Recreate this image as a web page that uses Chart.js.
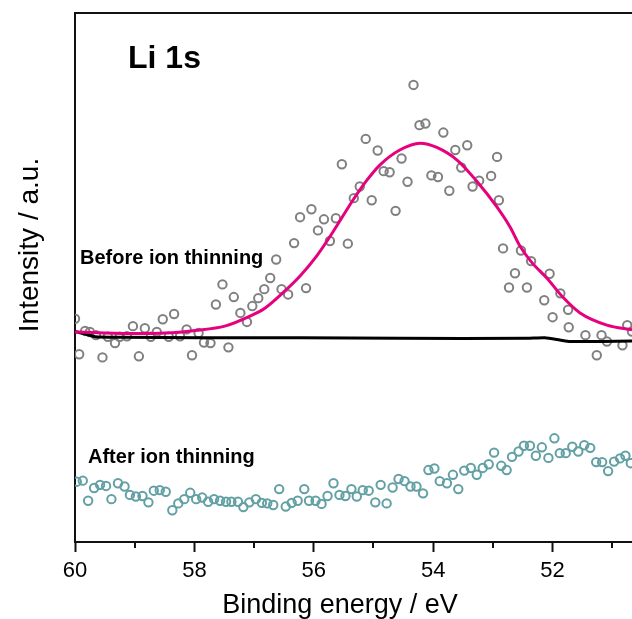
<!DOCTYPE html>
<html>
<head>
<meta charset="utf-8">
<title>Li 1s</title>
<script src="https://cdn.jsdelivr.net/npm/chart.js@4.4.1/dist/chart.umd.min.js"></script>
<style>
    html, body { margin: 0; padding: 0; background: #fff; }
    #wrap { width: 632px; height: 619px; position: relative; }
</style>
</head>
<body>
<div id="wrap"><canvas id="chartLi"></canvas></div>
<script>
/* ------------------------------------------------------------
   Дані спектру Li 1s (енергія зв'язку, eV / інтенсивність, a.u.)
------------------------------------------------------------ */

// до іонного травлення — точки вимірювання
const beforeEnergy = [60.00,59.93,59.83,59.75,59.65,59.54,59.45,59.33,59.25,59.13,59.03,58.93,58.83,58.73,58.63,58.53,58.43,58.34,58.24,58.13,
    58.04,57.93,57.84,57.73,57.64,57.53,57.43,57.34,57.23,57.12,57.03,56.93,56.83,56.73,56.63,56.54,56.43,56.33,56.23,56.13,
    56.04,55.93,55.83,55.73,55.63,55.53,55.43,55.33,55.23,55.13,55.03,54.93,54.83,54.73,54.63,54.53,54.43,54.33,54.23,54.13,
    54.03,53.92,53.83,53.73,53.63,53.53,53.43,53.34,53.23,53.03,52.93,52.90,52.83,52.73,52.63,52.53,52.43,52.36,52.14,52.05,
    52.00,51.87,51.74,51.73,51.45,51.26,51.18,51.09,50.83,50.75,50.67];
const beforeCounts = [42.2,35.5,39.9,39.7,39.1,34.9,38.8,37.6,38.8,38.9,40.8,35.1,40.4,38.8,39.7,42.1,38.8,43.1,38.9,40.2,
    35.3,39.5,37.7,37.6,44.9,48.7,36.8,46.3,43.3,41.6,44.6,46.1,47.8,49.9,53.4,47.8,46.8,56.5,61.4,48.0,
    62.9,58.9,61.0,56.9,61.2,71.4,56.4,65.0,67.2,76.2,64.6,74.0,70.1,69.9,62.6,72.5,68.1,86.4,78.8,79.1,
    69.3,69.0,77.4,66.4,74.1,70.8,75.0,67.2,68.3,69.2,72.8,64.6,55.5,48.1,50.8,55.1,48.1,53.1,45.7,50.7,
    42.5,47.0,43.9,40.6,39.1,35.3,39.1,37.9,37.2,41.0,39.8];

// фон під піком
const bgEnergy = [60.00,59.83,59.66,59.25,57.91,56.23,54.56,52.43,52.13,51.88,51.71,50.67];
const bgCounts = [39.8,39.3,38.8,38.7,38.6,38.6,38.5,38.5,38.6,38.2,37.9,38.0];

// огинаюча підгонки
const fitEnergy = [60.00,59.50,58.99,58.49,57.99,57.49,57.07,56.82,56.52,56.23,55.95,55.68,55.34,55.11,54.89,
    54.56,54.22,53.94,53.60,53.27,52.93,52.71,52.55,52.36,52.09,51.83,51.54,51.09,50.67];
const fitCounts = [39.7,39.5,39.4,39.5,40.0,40.8,42.7,44.2,47.1,50.3,54.1,58.6,64.7,68.4,71.3,
    74.1,75.4,74.6,72.2,68.2,63.3,59.5,56.0,53.0,49.8,46.3,43.3,41.0,40.1];

// після іонного травлення
const afterEnergy = [59.97,59.87,59.78,59.68,59.58,59.48,59.39,59.28,59.17,59.08,58.98,58.87,58.77,58.68,58.58,58.48,58.37,58.27,58.17,58.07,
    57.97,57.87,57.77,57.67,57.57,57.47,57.38,57.27,57.18,57.08,56.97,56.87,56.78,56.68,56.58,56.47,56.37,56.27,56.16,56.08,
    55.97,55.87,55.77,55.67,55.57,55.47,55.37,55.28,55.18,55.08,54.97,54.88,54.78,54.68,54.58,54.48,54.38,54.28,54.17,54.08,
    53.98,53.89,53.77,53.67,53.58,53.48,53.37,53.27,53.17,53.07,52.98,52.86,52.77,52.68,52.57,52.48,52.38,52.28,52.18,52.07,
    51.97,51.88,51.78,51.67,51.57,51.47,51.37,51.27,51.17,51.07,50.97,50.87,50.78,50.69];
const afterCounts = [11.4,11.6,7.8,10.2,10.8,10.6,8.1,11.1,10.5,8.9,8.6,8.7,7.5,9.7,9.8,9.5,6.0,7.3,8.1,9.3,
    8.1,8.4,7.6,8.1,7.8,7.6,7.6,7.6,6.6,7.5,8.1,7.4,7.3,7.0,10.0,6.7,7.4,7.8,10.0,7.8,
    7.8,7.2,8.7,11.1,8.9,8.7,10.0,8.6,9.8,9.7,7.5,10.8,7.3,10.3,11.9,11.5,10.5,10.5,9.2,13.6,
    13.9,11.5,11.1,12.7,10.0,13.5,14.0,12.7,14.0,14.7,16.9,14.4,13.6,16.1,17.1,18.2,18.2,16.3,17.9,15.9,
    19.6,16.8,16.8,18.0,17.1,18.3,17.8,15.1,15.1,13.4,15.2,15.8,16.3,14.9];

// осі
const majorTicks = [60, 58, 56, 54, 52];
const minorTicks = [59, 57, 55, 53, 51];
const energyRange = [50.67, 60];
const countsRange = [0, 100];

const FONT = 'Arial, "Liberation Sans", sans-serif';

/* ------------------------------------------------------------
   1. Допоміжне: пари (x, y) для scatter
------------------------------------------------------------ */

function toPoints(xs, ys) {
    return xs.map((x, i) => ({ x: x, y: ys[i] }));
}

/* ------------------------------------------------------------
   2. Рамка, дрібні поділки, підписи
------------------------------------------------------------ */

const decorPlugin = {
    id: "decor",
    afterDraw(chart) {
        const ctx = chart.ctx;
        const a = chart.chartArea;
        const xs = chart.scales.x;

        ctx.save();
        ctx.strokeStyle = "#111";
        ctx.lineWidth = 2;

        // верхня лінія рамки
        ctx.beginPath();
        ctx.moveTo(a.left - 1, a.top);
        ctx.lineTo(a.right, a.top);
        ctx.stroke();

        // дрібні поділки
        ctx.beginPath();
        minorTicks.forEach(v => {
            const px = Math.round(xs.getPixelForValue(v));
            ctx.moveTo(px, a.bottom);
            ctx.lineTo(px, a.bottom + 6);
        });
        ctx.stroke();

        ctx.fillStyle = "#000";
        ctx.textBaseline = "alphabetic";

        // назва лінії
        ctx.font = "bold 32px " + FONT;
        ctx.textAlign = "left";
        ctx.fillText("Li 1s", a.left + 53, a.top + 55);

        ctx.font = "bold 20px " + FONT;
        ctx.fillText("Before ion thinning", a.left + 5, a.top + 251);
        ctx.fillText("After ion thinning", a.left + 13, a.top + 450);

        // підписи осей
        ctx.font = "27px " + FONT;
        ctx.textAlign = "center";
        ctx.fillText("Binding energy / eV", 340, 613);

        ctx.save();
        ctx.font = "28px " + FONT;
        ctx.translate(38, 245);
        ctx.rotate(-Math.PI / 2);
        ctx.fillText("Intensity / a.u.", 0, 0);
        ctx.restore();

        ctx.restore();
    }
};

/* ------------------------------------------------------------
   3. Побудова графіку
------------------------------------------------------------ */

let chartLiObj = null;

function renderChartLi() {
    const ctx = document.getElementById("chartLi");
    if (!ctx) return;

    if (chartLiObj) chartLiObj.destroy();

    chartLiObj = new Chart(ctx, {
        type: "scatter",
        data: {
            datasets: [
                {
                    label: "Fit",
                    data: toPoints(fitEnergy, fitCounts),
                    showLine: true,
                    borderColor: "#e6007e",
                    borderWidth: 3,
                    pointRadius: 0,
                    cubicInterpolationMode: "monotone",
                    clip: 0,
                    order: 0
                },
                {
                    label: "Background",
                    data: toPoints(bgEnergy, bgCounts),
                    showLine: true,
                    borderColor: "#000",
                    borderWidth: 3,
                    pointRadius: 0,
                    tension: 0.2,
                    clip: 0,
                    order: 1
                },
                {
                    label: "Before ion thinning",
                    data: toPoints(beforeEnergy, beforeCounts),
                    pointStyle: "circle",
                    pointRadius: 4.2,
                    pointBorderWidth: 2,
                    pointBorderColor: "#808080",
                    pointBackgroundColor: "rgba(0,0,0,0)",
                    clip: 0,
                    order: 2
                },
                {
                    label: "After ion thinning",
                    data: toPoints(afterEnergy, afterCounts),
                    pointStyle: "circle",
                    pointRadius: 4.2,
                    pointBorderWidth: 2,
                    pointBorderColor: "#62a0a4",
                    pointBackgroundColor: "rgba(0,0,0,0)",
                    clip: 0,
                    order: 3
                }
            ]
        },
        options: {
            responsive: true,
            maintainAspectRatio: false,
            animation: false,
            layout: {
                autoPadding: false,
                padding: { top: 13, right: 0, bottom: 0, left: 0 }
            },
            plugins: {
                legend: { display: false },
                tooltip: { enabled: false }
            },
            scales: {
                x: {
                    type: "linear",
                    reverse: true,
                    min: energyRange[0],
                    max: energyRange[1],
                    afterBuildTicks: s => { s.ticks = majorTicks.map(v => ({ value: v })); },
                    afterFit: s => {
                        s.height = 77;
                        s.paddingLeft = 0;
                        s.paddingRight = 0;
                    },
                    border: { display: true, color: "#111", width: 2 },
                    grid: {
                        display: true,
                        drawOnChartArea: false,
                        drawTicks: true,
                        tickLength: 10,
                        tickWidth: 2,
                        tickColor: "#111"
                    },
                    ticks: {
                        color: "#000",
                        padding: 6,
                        maxRotation: 0,
                        font: { family: FONT, size: 22 },
                        callback: v => String(v)
                    }
                },
                y: {
                    type: "linear",
                    min: countsRange[0],
                    max: countsRange[1],
                    afterFit: s => {
                        s.width = 75;
                        s.paddingTop = 0;
                        s.paddingBottom = 0;
                    },
                    border: { display: true, color: "#111", width: 2 },
                    grid: { display: false },
                    ticks: { display: false }
                }
            }
        },
        plugins: [decorPlugin]
    });
}

renderChartLi();
</script>
</body>
</html>
